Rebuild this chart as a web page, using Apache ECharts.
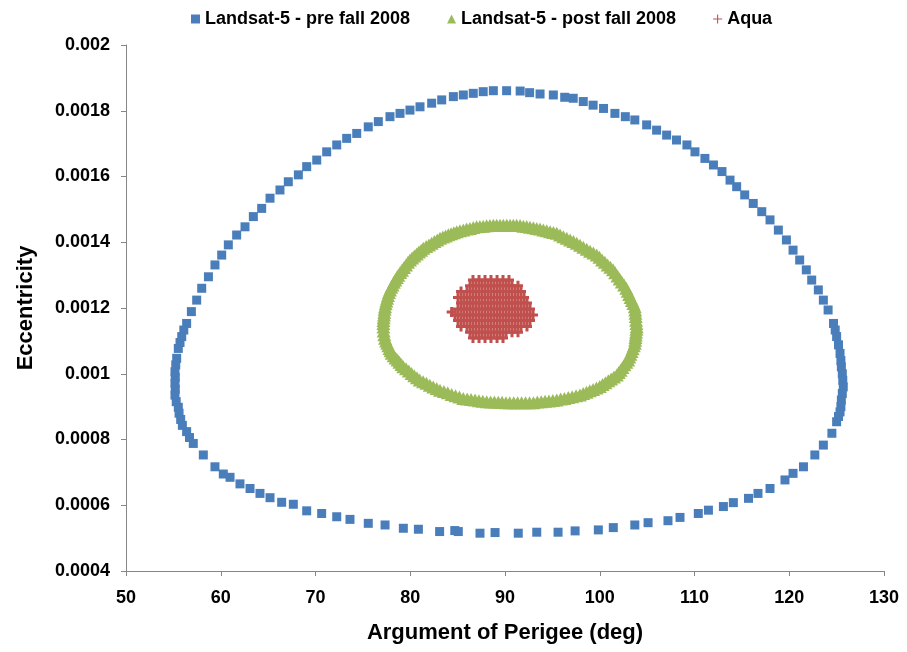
<!DOCTYPE html>
<html><head><meta charset="utf-8">
<script src="https://cdn.jsdelivr.net/npm/echarts@6/dist/echarts.min.js"></script>
<style>html,body{margin:0;padding:0;background:#fff}#c{width:907px;height:652px}</style>
</head><body><div id="c"></div>
<script>
// ---- data ----
const seriesNames = ['Landsat-5 - pre fall 2008', 'Landsat-5 - post fall 2008', 'Aqua'];
const xTicks = [50, 60, 70, 80, 90, 100, 110, 120, 130];
const yTicks = [0.0004, 0.0006, 0.0008, 0.001, 0.0012, 0.0014, 0.0016, 0.0018, 0.002];
const xTitle = 'Argument of Perigee (deg)';
const yTitle = 'Eccentricity';

// Landsat-5 pre fall 2008 (blue squares), [argument of perigee, eccentricity]
const landsatPre = [
[84.7,0.000523],[83.1,0.00052],[80.86,0.000527],[79.27,0.00053],[77.34,0.00054],[75.57,0.000545],
[73.64,0.000557],[72.24,0.000565],[70.65,0.000575],[69.07,0.000583],[67.66,0.000603],[66.43,0.000609],
[65.2,0.000623],[64.14,0.000636],[63.09,0.000651],[62.03,0.000665],[60.98,0.000685],[60.27,0.000695],
[59.39,0.000717],[58.16,0.000753],[57.1,0.000788],[56.7,0.000806],[56.4,0.000824],[55.95,0.000843],
[55.77,0.000861],[55.6,0.00088],[55.52,0.000898],[55.3,0.000915],[55.17,0.000935],[55.2,0.000953],
[55.17,0.000971],[55.2,0.000989],[55.17,0.001006],[55.25,0.001027],[55.35,0.001047],[55.52,0.001077],
[55.7,0.001095],[55.88,0.001113],[56.1,0.001133],[56.4,0.001153],
[56.9,0.001189],[57.46,0.001224],[57.99,0.00126],[58.7,0.001295],[59.39,0.001331],[60.1,0.001361],
[60.8,0.001392],[61.68,0.001422],[62.56,0.001447],[63.44,0.001478],[64.32,0.001503],[65.2,0.001534],
[66.25,0.001559],[67.13,0.001584],[68.19,0.001605],[69.07,0.00163],[70.13,0.00165],[71.18,0.001675],
[72.24,0.001696],[73.29,0.001716],[74.35,0.001731],[75.57,0.001751],[76.63,0.001767],[77.86,0.001782],
[78.92,0.001792],[79.97,0.001802],[81.03,0.001812],[82.26,0.001823],[83.32,0.001833],[84.55,0.001843],
[85.6,0.001848],[86.65,0.001853],[87.7,0.001858],[88.77,0.001861],[90.17,0.001861],[91.6,0.00186],
[92.6,0.001855],[93.7,0.001851],[95.1,0.001848],[96.3,0.001841],[97.2,0.001838],[98.26,0.001828],
[99.3,0.001817],[100.4,0.001807],[101.6,0.001792],[102.7,0.001782],[103.7,0.001772],[104.95,0.001757],
[106.0,0.001741],[107.06,0.001726],[108.1,0.001711],[109.2,0.001696],[110.05,0.001675],[111.1,0.001655],
[112.0,0.001635],[112.9,0.001615],[113.75,0.001589],[114.45,0.001569],[115.3,0.001544],[116.2,0.001518],
[117.1,0.001493],[117.97,0.001468],[118.85,0.001437],[119.7,0.001407],[120.4,0.001376],[121.1,0.001346],
[121.8,0.001316],[122.37,0.001285],[123.07,0.001255],[123.6,0.001224],[124.1,0.001194],[124.67,0.001153],
[124.85,0.001133],[125.0,0.001113],[125.2,0.001088],[125.36,0.001062],[125.45,0.00104],[125.5,0.001021],
[125.6,0.001],[125.65,0.00098],[125.7,0.00096],[125.6,0.00094],[125.5,0.00092],[125.45,0.0009],
[125.36,0.000884],[125.2,0.00087],[125.0,0.000854],[124.5,0.000819],[123.6,0.000783],[122.7,0.000753],
[121.5,0.000717],[120.4,0.000697],[119.55,0.000677],[117.97,0.000651],[116.7,0.000636],[115.7,0.000621],
[114.1,0.000608],[113.05,0.000596],[111.47,0.000585],[110.4,0.000575],[108.47,0.000563],[107.2,0.000553],
[105.1,0.000547],[103.7,0.00054],[101.43,0.000532],[99.85,0.000525],[97.4,0.000522],[95.6,0.000518],
[93.35,0.000518],[91.4,0.000515],[88.95,0.000517],[87.36,0.000515],[85.07,0.00052]
];

// Landsat-5 post fall 2008 (green triangles)
const landsatPost = [
[77.20,0.001130],[77.16,0.001153],[77.20,0.001170],[77.26,0.001187],[77.34,0.001204],[77.48,0.001221],
[77.65,0.001238],[77.86,0.001255],[78.13,0.001270],[78.42,0.001285],[78.74,0.001300],[79.13,0.001315],
[79.55,0.001331],[79.97,0.001346],[80.44,0.001358],[80.91,0.001370],[81.38,0.001382],[81.97,0.001392],
[82.55,0.001402],[83.14,0.001412],[83.73,0.001419],[84.31,0.001426],[84.90,0.001432],[85.60,0.001437],
[86.30,0.001442],[87.00,0.001447],[87.70,0.001449],[88.41,0.001451],[89.12,0.001452],[89.82,0.001452],
[90.53,0.001452],[91.23,0.001452],[91.94,0.001449],[92.64,0.001446],[93.35,0.001442],[94.05,0.001437],
[94.76,0.001432],[95.46,0.001427],[96.16,0.001417],[96.87,0.001407],[97.57,0.001397],[98.27,0.001385],
[98.98,0.001373],[99.68,0.001361],[100.25,0.001346],[100.83,0.001331],[101.40,0.001316],[101.87,0.001297],
[102.33,0.001279],[102.80,0.001260],[103.10,0.001241],[103.40,0.001223],[103.70,0.001204],[103.77,0.001184],
[103.83,0.001163],[103.90,0.001143],[103.83,0.001126],[103.77,0.001110],[103.70,0.001093],[103.47,0.001076],
[103.23,0.001059],[103.00,0.001042],[102.60,0.001027],[102.20,0.001011],[101.80,0.000996],[101.20,0.000984],
[100.60,0.000973],[100.00,0.000961],[99.30,0.000952],[98.60,0.000944],[97.90,0.000935],[97.09,0.000930],
[96.27,0.000925],[95.46,0.000920],[94.64,0.000917],[93.82,0.000915],[93.00,0.000912],[92.17,0.000912],
[91.33,0.000912],[90.50,0.000912],[89.69,0.000913],[88.88,0.000914],[88.07,0.000915],[87.25,0.000918],
[86.42,0.000922],[85.60,0.000925],[84.78,0.000933],[83.96,0.000942],[83.14,0.000950],[82.43,0.000960],
[81.71,0.000971],[81.00,0.000981],[80.42,0.000994],[79.85,0.001008],[79.27,0.001021],[78.86,0.001035],
[78.45,0.001048],[78.04,0.001062],[77.81,0.001077],[77.57,0.001093],[77.34,0.001108],
// further passes read along the same band
[79.56,0.001015],[79.07,0.001028],[78.66,0.001042],[78.25,0.001055],[77.92,0.00107],[77.69,0.001085],
[77.45,0.0011],[77.26,0.001119],[77.17,0.001142],[77.17,0.001162],[77.23,0.001179],[77.3,0.001196],
[77.41,0.001213],[77.56,0.00123],[77.75,0.001247],[77.99,0.001263],[78.27,0.001278],[78.58,0.001293],
[78.94,0.001308],[79.34,0.001323],[79.76,0.001339],[80.2,0.001352],[80.68,0.001364],[81.15,0.001376],
[81.68,0.001387],[82.26,0.001397],[82.85,0.001407],[83.44,0.001416],[84.02,0.001423],[84.6,0.001429],
[85.25,0.001435],[85.95,0.00144],[86.65,0.001445],[87.35,0.001448],[88.06,0.00145],[88.77,0.001452],
[89.47,0.001452],[90.18,0.001452],[90.88,0.001452],[91.59,0.001451],[92.29,0.001448],[93.0,0.001444],
[93.7,0.00144],[94.4,0.001435],[95.11,0.00143],[95.81,0.001422],[96.52,0.001412],[97.22,0.001402],
[97.92,0.001391],[98.63,0.001379],[99.33,0.001367],[99.97,0.001354],[100.54,0.001339],[101.12,0.001324],
[101.63,0.001307],[102.1,0.001288],[102.57,0.00127],[102.95,0.001251],[103.25,0.001232],[103.55,0.001214],
[103.74,0.001194],[103.8,0.001174],[103.87,0.001153],[103.87,0.001135],[103.8,0.001118],[103.74,0.001102],
[103.59,0.001085],[103.35,0.001068],[103.12,0.001051],[102.8,0.001035],[102.4,0.001019],[102.0,0.001004],
[101.5,0.00099],[100.9,0.000979],[100.3,0.000967],[99.65,0.000957],[98.95,0.000948],[98.25,0.00094],
[97.5,0.000933],[96.68,0.000928],[95.87,0.000923],[95.05,0.000919],[94.23,0.000916],[93.41,0.000914],
[92.59,0.000912],[91.75,0.000912],[90.92,0.000912],[90.1,0.000912],[89.29,0.000913],[88.48,0.000914],
[87.66,0.000916],[86.84,0.00092],[86.01,0.000923],[85.19,0.000929],[84.37,0.000937],[83.55,0.000946],
[82.79,0.000955],[82.07,0.000965],[81.36,0.000976],[80.71,0.000988],[80.14,0.001001]
];

// Aqua (red plus markers) – the filled blob, read row by row
const aquaRowY = [0.001285,0.001268,0.00125,0.001232,0.001215,0.001197,0.001179,0.001162,0.001144,0.001126,0.001109];
const aquaRowX = [
[86.62,87.26,87.89,88.52,89.16,89.79,90.42],
[86.31,86.94,87.57,88.21,88.84,89.47,90.11,90.74,91.37],
[85.36,85.99,86.62,87.26,87.89,88.52,89.16,89.79,90.42,91.06,91.69],
[85.04,85.67,86.31,86.94,87.57,88.21,88.84,89.47,90.11,90.74,91.37,92.01],
[85.36,85.99,86.62,87.26,87.89,88.52,89.16,89.79,90.42,91.06,91.69,92.32],
[85.04,85.67,86.31,86.94,87.57,88.21,88.84,89.47,90.11,90.74,91.37,92.01,92.64],
[84.72,85.36,85.99,86.62,87.26,87.89,88.52,89.16,89.79,90.42,91.06,91.69,92.32,92.96],
[85.04,85.67,86.31,86.94,87.57,88.21,88.84,89.47,90.11,90.74,91.37,92.01,92.64],
[85.36,85.99,86.62,87.26,87.89,88.52,89.16,89.79,90.42,91.06,91.69,92.32],
[86.31,86.94,87.57,88.21,88.84,89.47,90.11,90.74,91.37],
[86.62,87.26,87.89,88.52,89.16,89.79]
];
const aquaExtra = [[84.37,0.001188]];

// ---- build options ----
const aquaPts = [];
aquaRowY.forEach((y, i) => aquaRowX[i].forEach(x => aquaPts.push([x, y])));
aquaExtra.forEach(p => aquaPts.push(p));

const FONT = "'Liberation Sans', Arial, sans-serif";
const AXIS_COLOR = '#868686';
const plusThin = 'path://M0,4.4H10V5.6H0Z M4.4,0H5.6V10H4.4Z';
const plusThick = 'path://M0,3.5H10V6.5H0Z M3.5,0H6.5V10H3.5Z';

const chart = echarts.init(document.getElementById('c'), null, {renderer: 'canvas'});
chart.setOption({
  animation: false,
  backgroundColor: '#fff',
  grid: {left: 126, right: 23, top: 45, bottom: 81, containLabel: false},
  legend: {
    top: 5, left: 186,
    itemWidth: 9, itemHeight: 9, itemGap: 37,
    textStyle: {fontSize: 18, fontWeight: 'bold', fontFamily: FONT, color: '#000'},
    data: [
      {name: seriesNames[0], icon: 'rect'},
      {name: seriesNames[1], icon: 'triangle'},
      {name: seriesNames[2], icon: plusThin}
    ]
  },
  xAxis: {
    type: 'value', min: xTicks[0], max: xTicks[xTicks.length - 1], interval: xTicks[1] - xTicks[0],
    axisLine: {show: true, onZero: false, lineStyle: {color: AXIS_COLOR}},
    axisTick: {show: true, length: 5, lineStyle: {color: AXIS_COLOR}},
    splitLine: {show: false},
    axisLabel: {fontSize: 18, fontWeight: 'bold', fontFamily: FONT, color: '#000', margin: 18},
    name: xTitle, nameLocation: 'middle', nameGap: 51,
    nameTextStyle: {fontSize: 22, fontWeight: 'bold', fontFamily: FONT, color: '#000'}
  },
  yAxis: {
    type: 'value', min: yTicks[0], max: yTicks[yTicks.length - 1], interval: 0.0002,
    axisLine: {show: true, onZero: false, lineStyle: {color: AXIS_COLOR}},
    axisTick: {show: true, length: 5, lineStyle: {color: AXIS_COLOR}},
    splitLine: {show: false},
    axisLabel: {fontSize: 18, fontWeight: 'bold', fontFamily: FONT, color: '#000', margin: 16,
      formatter: v => String(parseFloat(v.toFixed(6)))},
    name: yTitle, nameLocation: 'middle', nameGap: 89,
    nameTextStyle: {fontSize: 22, fontWeight: 'bold', fontFamily: FONT, color: '#000'}
  },
  series: [
    {type: 'scatter', name: seriesNames[0], data: landsatPre, symbol: 'rect', symbolSize: 9,
      itemStyle: {color: '#4A7EBB', opacity: 1}, silent: true},
    {type: 'scatter', name: seriesNames[1], data: landsatPost, symbol: 'triangle', symbolSize: [14, 13],
      itemStyle: {color: '#9BBB59', opacity: 1}, silent: true},
    {type: 'scatter', name: seriesNames[2], data: aquaPts, symbol: plusThick, symbolSize: 10,
      itemStyle: {color: '#C0504D', opacity: 1}, silent: true}
  ]
});
</script>
</body></html>
